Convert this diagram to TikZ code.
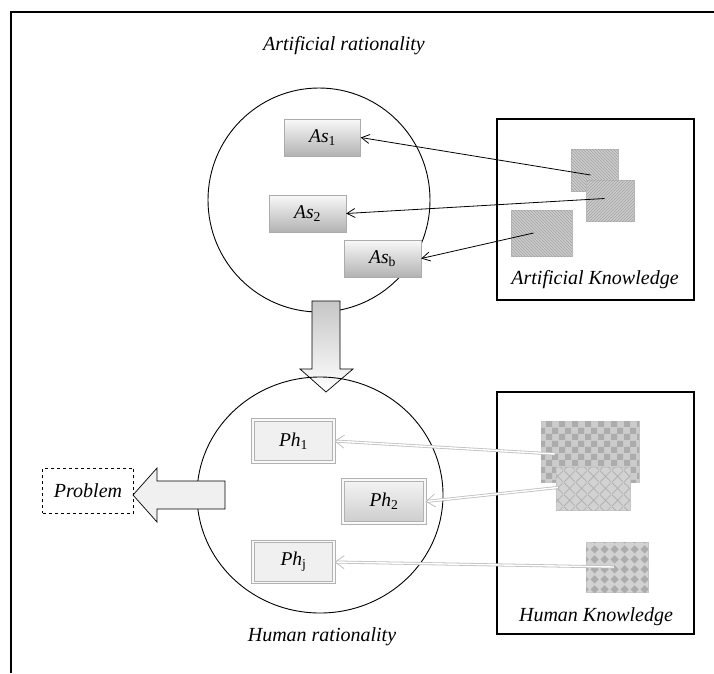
\documentclass[tikz,border=0pt]{standalone}
\usepackage{fontspec}
\setmainfont{Liberation Serif}
\usetikzlibrary{arrows.meta,patterns,patterns.meta,shapes.geometric}

% own patterns for the knowledge boxes
\tikzdeclarepattern{name=bigcheck, type=uncolored,
  bounding box={(0pt,0pt) and (13pt,13pt)}, tile size={(13pt,13pt)},
  code={\fill (0pt,0pt) rectangle (6.5pt,6.5pt); \fill (6.5pt,6.5pt) rectangle (13pt,13pt);}}
\tikzdeclarepattern{name=lattice, type=uncolored,
  bounding box={(0pt,0pt) and (12pt,12pt)}, tile size={(12pt,12pt)},
  code={\draw[line width=0.8pt] (0pt,0pt) -- (12pt,12pt) (0pt,12pt) -- (12pt,0pt);}}
\tikzdeclarepattern{name=diamonds, type=uncolored,
  bounding box={(0pt,0pt) and (10pt,10pt)}, tile size={(10pt,10pt)},
  code={\fill (5pt,0.5pt) -- (9.5pt,5pt) -- (5pt,9.5pt) -- (0.5pt,5pt) -- cycle;}}

\tikzset{
  lbl/.style={font=\itshape\fontsize{20}{23}\selectfont},
  asbox/.style={draw=gray!65, top color=gray!5, bottom color=gray!60, inner sep=0pt,
    font=\fontsize{19.5}{22}\selectfont},
  phbox/.style={draw=gray!60, line width=1pt, double=gray!5, double distance=1.8pt, fill=gray!12,
    inner sep=0pt, font=\fontsize{19.5}{22}\selectfont},
  hatch/.style={draw=gray!55, fill=gray!40, inner sep=0pt,
    postaction={pattern=#1, pattern color=gray!72}},
  hbox/.style={draw=gray!45, fill=gray!40, inner sep=0pt},
  kbox/.style={draw, line width=1.1pt},
  akarrow/.style={-{Straight Barb[length=8pt,width=9pt]}, line width=0.8pt},
  hkarrow/.style={-{Straight Barb[length=9pt,width=13pt]}, draw=gray!50, double=white,
    double distance=1.4pt, line width=0.8pt}
}

\begin{document}
\begin{tikzpicture}[x=1pt,y=-1pt]
\useasboundingbox (0,0) rectangle (714,673);

% outer frame
\draw[line width=2pt] (11,673) -- (11,12) -- (714,12);

% artificial rationality
\node[lbl] (artr) at (344,46) {Artificial rationality};
\node[ellipse, draw, line width=0.9pt, minimum width=222pt, minimum height=224pt] (artel) at (319,200) {};
\node[asbox, minimum width=76pt, minimum height=37pt] (as1) at (322.5,137.5) {\textit{As}\textsubscript{1}};
\node[asbox, minimum width=77pt, minimum height=37pt] (as2) at (307.5,213.5) {\textit{As}\textsubscript{2}};
\node[asbox, minimum width=77pt, minimum height=37pt] (asb) at (382.5,258.5) {\textit{As}\textsubscript{b}};

% artificial knowledge
\node[kbox, minimum width=197pt, minimum height=181pt] (akbox) at (595.5,209.5) {};
\node[lbl] (aklbl) at (595,280) {Artificial Knowledge};
\node[hatch=north west lines, minimum width=47pt, minimum height=42pt] (sq1) at (594.5,170) {};
\node[hatch=north east lines, minimum width=48pt, minimum height=41pt] (sq2) at (610.5,200.5) {};
\node[hatch=north west lines, minimum width=61pt, minimum height=46pt] (sq3) at (541.5,233) {};

\draw[akarrow] ([xshift=-4pt,yshift=-5pt]sq1.center) -- (as1.east);
\draw[akarrow] ([xshift=-6pt,yshift=2pt]sq2.center) -- (as2.east);
\draw[akarrow] ([xshift=-8pt]sq3.center) -- (asb.east);

% shift down to human rationality
\draw[top color=gray!45, bottom color=white, line width=0.7pt]
  (312,301) -- (340,301) -- (340,369) -- (353,369) -- (326,392) -- (300,369) -- (312,369) -- cycle;

% human rationality
\node[ellipse, draw, line width=0.9pt, minimum width=246pt, minimum height=236pt] (humel) at (320,495) {};
\node[lbl] (humr) at (322,637) {Human rationality};
\node[phbox, minimum width=81pt, minimum height=42pt] (ph1) at (293.5,441) {\textit{Ph}\textsubscript{1}};
\node[phbox, fill=none, top color=gray!8, bottom color=gray!40, minimum width=82pt, minimum height=43pt] (ph2) at (384,501.5) {\textit{Ph}\textsubscript{2}};
\node[phbox, minimum width=81pt, minimum height=41pt] (phj) at (293.5,562) {\textit{Ph}\textsubscript{j}};

% human knowledge
\node[kbox, minimum width=197pt, minimum height=242pt] (hkbox) at (595.5,513) {};
\node[lbl] (hklbl) at (596,617) {Human Knowledge};
\node[hbox, minimum width=98pt, minimum height=61pt, postaction={pattern=bigcheck, pattern color=gray!65}] (chk) at (590,452) {};
\node[hbox, fill=gray!35, minimum width=74pt, minimum height=43pt, postaction={pattern=lattice, pattern color=gray!60}] (lat) at (593,488.5) {};
\node[hbox, fill=gray!35, minimum width=62pt, minimum height=50pt, postaction={pattern=diamonds, pattern color=gray!65}] (dia) at (617,567) {};

\draw[hkarrow] ([xshift=14pt,yshift=-2pt]chk.west) -- (ph1.east);
\draw[hkarrow] ([xshift=2pt,yshift=1pt]lat.west) -- (ph2.east);
\draw[hkarrow] ([xshift=28pt]dia.west) -- (phj.east);

% outcome
\draw[fill=gray!12, line width=0.7pt]
  (225,481) -- (157,481) -- (157,468) -- (133,495) -- (157,522) -- (157,509) -- (225,509) -- cycle;
\node[draw, dashed, line width=0.9pt, minimum width=91pt, minimum height=45pt, lbl] (prob) at (88,490.5) {Problem};

\end{tikzpicture}
\end{document}
